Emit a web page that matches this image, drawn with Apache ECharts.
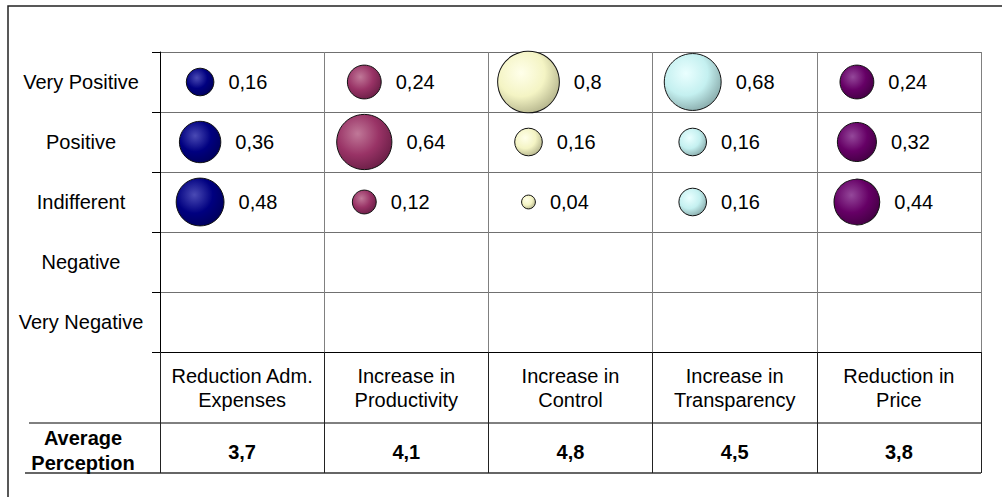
<!DOCTYPE html>
<html>
<head>
<meta charset="utf-8">
<script src="https://cdn.jsdelivr.net/npm/echarts@6/dist/echarts.min.js"></script>
<style>
  html, body { margin: 0; padding: 0; background: #fff; }
  #chart { width: 1002px; height: 497px; }
</style>
</head>
<body>
<div id="chart"></div>
<script>
// perception levels, top to bottom
var levels = ["Very Positive", "Positive", "Indifferent", "Negative", "Very Negative"];
var categories = [
  "Reduction Adm.\nExpenses",
  "Increase in\nProductivity",
  "Increase in\nControl",
  "Increase in\nTransparency",
  "Reduction in\nPrice"
];
var averages = [3.7, 4.1, 4.8, 4.5, 3.8];

// share of answers per level (same order as levels)
var admExpenses = [0.16, 0.36, 0.48, 0, 0];
var productivity = [0.24, 0.64, 0.12, 0, 0];
var control = [0.8, 0.16, 0.04, 0, 0];
var transparency = [0.68, 0.16, 0.16, 0, 0];
var price = [0.24, 0.32, 0.44, 0, 0];

var columns = [admExpenses, productivity, control, transparency, price];
// highlight, base, shadow
var colors = [
  ["#4a4ab4", "#000080", "#00005c"],
  ["#c07898", "#993366", "#6a1e46"],
  ["#ffffea", "#f4f4c4", "#b4b48c"],
  ["#eaffff", "#c4f0f0", "#88aaaa"],
  ["#94489a", "#660066", "#440044"]
];

function comma(v) {
  return String(v).replace(".", ",");
}

var series = columns.map(function(values, i) {
  var data = [];
  values.forEach(function(v, j) {
    if (v > 0) data.push([i, j, v]);
  });
  return {
    name: categories[i],
    type: "scatter",
    data: data,
    symbolSize: function(val) {
      return 69 * Math.sqrt(val[2]);
    },
    symbolOffset: [-42, 0],
    itemStyle: {
      color: {
        type: "radial",
        x: 0.38, y: 0.35, r: 0.7,
        colorStops: [
          { offset: 0, color: colors[i][0] },
          { offset: 0.55, color: colors[i][1] },
          { offset: 1, color: colors[i][2] }
        ]
      },
      borderColor: "#111",
      borderWidth: 1,
      opacity: 1
    },
    label: {
      show: true,
      position: "right",
      distance: 14,
      color: "#000",
      fontSize: 20,
      fontFamily: "Liberation Sans, Arial, sans-serif",
      formatter: function(p) {
        return comma(p.value[2]);
      }
    },
    emphasis: { disabled: true }
  };
});

var chart = echarts.init(document.getElementById("chart"), null, { renderer: "svg" });
chart.setOption({
  animation: false,
  textStyle: { fontFamily: "Liberation Sans, Arial, sans-serif" },
  grid: { left: 160, right: 21, top: 52, bottom: 145 },
  xAxis: [
    {
      type: "category",
      data: categories,
      axisLine: { show: true, lineStyle: { color: "#000", width: 1 } },
      axisTick: { show: true, length: 71, lineStyle: { color: "#222" } },
      splitLine: { show: true, lineStyle: { color: "#808080", width: 1 } },
      axisLabel: {
        color: "#000",
        fontSize: 20,
        lineHeight: 24,
        margin: 12,
        interval: 0
      }
    },
    {
      type: "category",
      data: averages.map(comma),
      position: "bottom",
      offset: 71,
      axisLine: { show: false },
      axisTick: { show: true, length: 50, lineStyle: { color: "#222" } },
      splitLine: { show: false },
      axisLabel: {
        color: "#000",
        fontSize: 20,
        fontWeight: "bold",
        margin: 19,
        interval: 0
      }
    }
  ],
  yAxis: {
    type: "category",
    data: levels,
    inverse: true,
    axisLine: { show: true, lineStyle: { color: "#000", width: 1 } },
    axisTick: { show: true, length: 8, lineStyle: { color: "#000" } },
    splitLine: { show: true, lineStyle: { color: "#707070", width: 1 } },
    axisLabel: {
      color: "#000",
      fontSize: 20,
      align: "center",
      margin: 79,
      interval: 0
    }
  },
  graphic: [
    {
      type: "rect",
      shape: { x: 8, y: 6, width: 1100, height: 600 },
      style: { fill: "none", stroke: "#222", lineWidth: 1.5 },
      silent: true
    },
    {
      type: "line",
      shape: { x1: 29, y1: 423, x2: 981, y2: 423 },
      style: { stroke: "#000", lineWidth: 1 },
      silent: true
    },
    {
      type: "line",
      shape: { x1: 25, y1: 473, x2: 981, y2: 473 },
      style: { stroke: "#333", lineWidth: 1.5 },
      silent: true
    },
    {
      type: "text",
      x: 83,
      y: 450,
      style: {
        text: "Average\nPerception",
        fill: "#000",
        font: "bold 20px Liberation Sans, Arial, sans-serif",
        lineHeight: 25,
        align: "center",
        verticalAlign: "middle"
      },
      silent: true
    }
  ],
  series: series
});
</script>
</body>
</html>
